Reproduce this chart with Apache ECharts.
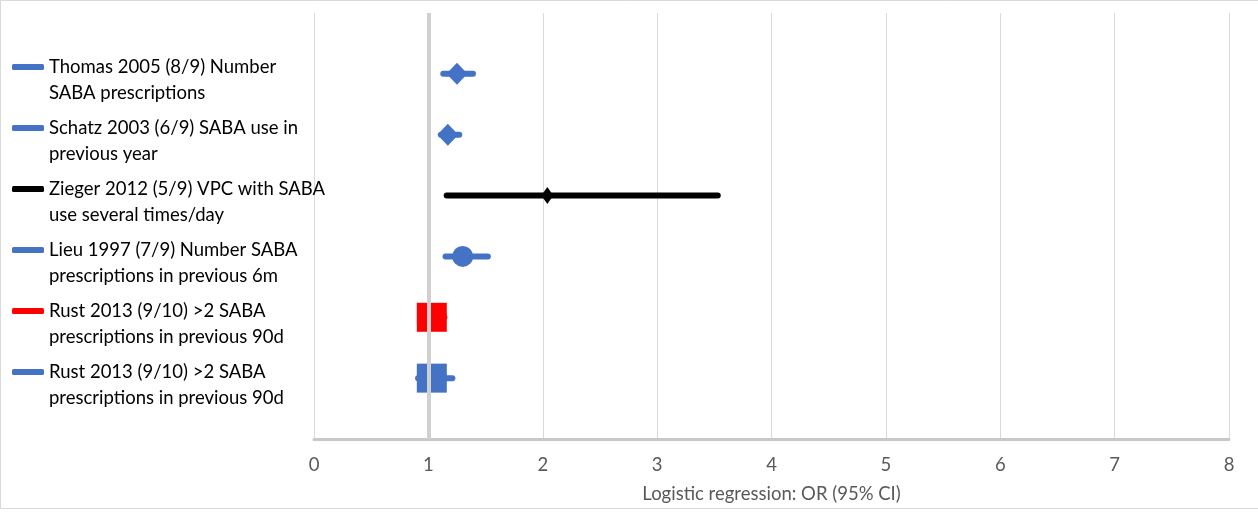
<!DOCTYPE html>
<html>
<head>
<meta charset="utf-8">
<script src="https://cdn.jsdelivr.net/npm/echarts@6/dist/echarts.min.js"></script>
<style>
html,body{margin:0;padding:0;background:#fff;}
#chart{width:1258px;height:517px;}
</style>
</head>
<body>
<div id="chart"></div>
<script>
// ---- data ----
const studies = [
  'Thomas 2005 (8/9) Number\nSABA prescriptions',
  'Schatz 2003 (6/9) SABA use in\nprevious year',
  'Zieger 2012 (5/9) VPC with SABA\nuse several times/day',
  'Lieu 1997 (7/9) Number SABA\nprescriptions in previous 6m',
  'Rust 2013 (9/10) >2 SABA\nprescriptions in previous 90d',
  'Rust 2013 (9/10) >2 SABA\nprescriptions in previous 90d\u200b'
];
const oddsRatio = [1.25, 1.17, 2.04, 1.30, 1.03, 1.03];
const ciLow     = [1.13, 1.11, 1.16, 1.15, 0.93, 0.91];
const ciHigh    = [1.39, 1.27, 3.53, 1.52, 1.14, 1.21];
const rowIndex  = [6, 5, 4, 3, 2, 1];
const xTicks    = [0, 1, 2, 3, 4, 5, 6, 7, 8];
const refValue  = 1;

// ---- styles (kept separate from data) ----
const styles = [
  {color:'#4472C4', symbol:'diamond', size:[21,22]},
  {color:'#4472C4', symbol:'diamond', size:[21,22]},
  {color:'#000000', symbol:'diamond', size:[12,17]},
  {color:'#4472C4', symbol:'circle',  size:21},
  {color:'#FF0000', symbol:'rect',    size:[30,29]},
  {color:'#4472C4', symbol:'rect',    size:[30,29]}
];
const FONT = 'Lato, "Open Sans", sans-serif';
const FS = 18.5;

const series = [];
studies.forEach((name, i) => {
  const st = styles[i];
  series.push({
    name: name,
    type: 'line',
    data: [[ciLow[i], rowIndex[i]], [ciHigh[i], rowIndex[i]]],
    showSymbol: false,
    symbol: 'none',
    silent: true,
    z: 2,
    itemStyle: {color: st.color},
    lineStyle: {color: st.color, width: 6, cap: 'round'}
  });
  series.push({
    name: name,
    type: 'scatter',
    data: [[oddsRatio[i], rowIndex[i]]],
    symbol: st.symbol,
    symbolSize: st.size,
    z: 3,
    itemStyle: {color: st.color, opacity: 1}
  });
});
series.push({
  type: 'scatter',
  data: [],
  z: 10,
  silent: true,
  markLine: {
    silent: true,
    symbol: 'none',
    label: {show: false},
    lineStyle: {color: '#d0d0d0', width: 4, type: 'solid'},
    data: [{xAxis: refValue}]
  }
});

const chart = echarts.init(document.getElementById('chart'), null, {renderer: 'canvas'});
chart.setOption({
  animation: false,
  backgroundColor: '#ffffff',
  textStyle: {fontFamily: FONT},
  graphic: [{
    type: 'rect',
    shape: {x: 0.5, y: 0.5, width: 1300, height: 508},
    style: {fill: 'none', stroke: '#d9d9d9', lineWidth: 1},
    silent: true,
    z: -1
  }],
  grid: {left: 314, right: 29, top: 13, bottom: 78},
  legend: {
    orient: 'vertical',
    left: 12,
    top: 28,
    padding: 0,
    itemGap: -17,
    itemWidth: 32,
    itemHeight: 6,
    icon: 'roundRect',
    selectedMode: false,
    data: studies,
    formatter: function (name) { return '\n' + name; },
    textStyle: {
      fontFamily: FONT,
      fontSize: FS,
      color: '#000000',
      lineHeight: 26
    }
  },
  xAxis: {
    type: 'value',
    min: xTicks[0],
    max: xTicks[xTicks.length - 1],
    interval: 1,
    name: 'Logistic regression: OR (95% CI)',
    nameLocation: 'middle',
    nameGap: 46,
    nameTextStyle: {fontFamily: FONT, fontSize: FS, color: '#595959'},
    axisLine: {show: true, lineStyle: {color: '#c8c8c8', width: 3}},
    axisTick: {show: false},
    axisLabel: {fontFamily: FONT, fontSize: FS, color: '#595959', margin: 17},
    splitLine: {show: true, lineStyle: {color: '#d9d9d9', width: 1}}
  },
  yAxis: {
    type: 'value',
    min: 0,
    max: 7,
    show: false,
    splitLine: {show: false}
  },
  series: series
});
</script>
</body>
</html>
